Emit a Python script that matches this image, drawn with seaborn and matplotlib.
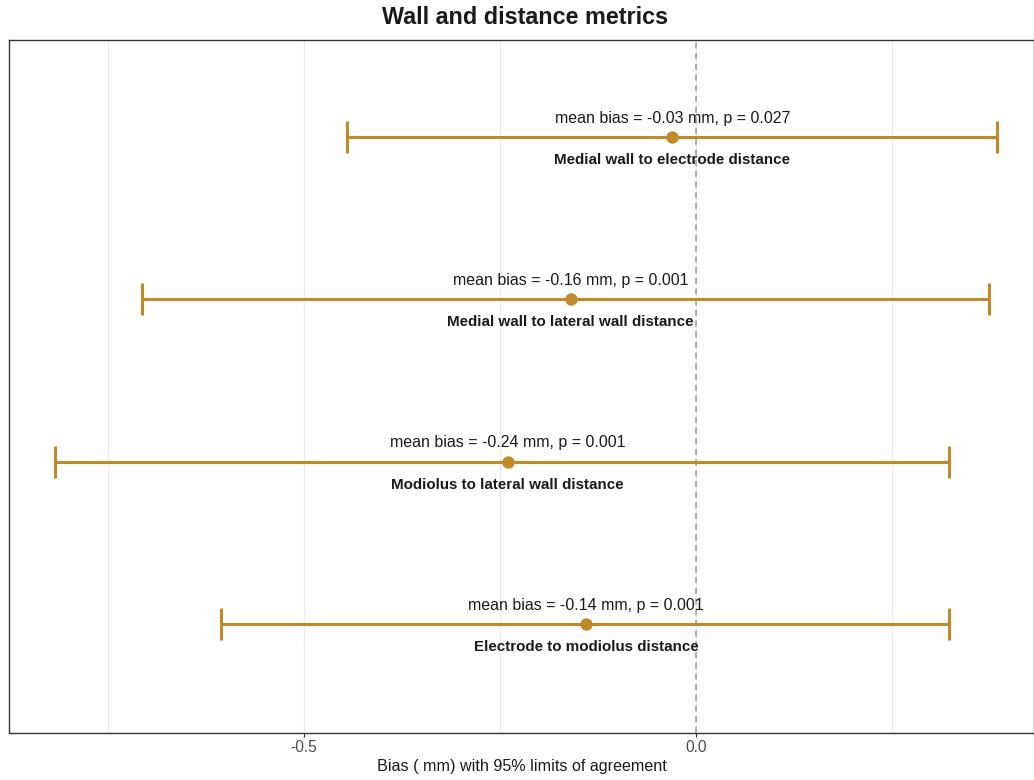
import matplotlib
matplotlib.use("Agg")
import matplotlib.pyplot as plt
import seaborn as sns
import pandas as pd

# Bland-Altman style summary per metric
metrics = [
    "Medial wall to electrode distance",
    "Medial wall to lateral wall distance",
    "Modiolus to lateral wall distance",
    "Electrode to modiolus distance",
]
mean_bias = [-0.03, -0.16, -0.24, -0.14]
lower_loa = [-0.445, -0.706, -0.817, -0.606]
upper_loa = [0.384, 0.373, 0.322, 0.322]
p_values = ["0.027", "0.001", "0.001", "0.001"]

color = "#C08A2A"

sns.set_theme(style="white")
plt.rcParams["font.family"] = ["Liberation Sans", "DejaVu Sans"]

df = pd.DataFrame({
    "metric": metrics,
    "bias": mean_bias,
    "lo": lower_loa,
    "hi": upper_loa,
    "p": p_values,
})
df["ypos"] = list(range(len(metrics), 0, -1))

fig = plt.figure(figsize=(10.34, 7.8), dpi=100)
ax = fig.add_axes([9 / 1034, 47 / 780, 1025 / 1034, 693 / 780])

# limits of agreement with caps
ax.errorbar(
    df["bias"], df["ypos"],
    xerr=[df["bias"] - df["lo"], df["hi"] - df["bias"]],
    fmt="none", ecolor=color, elinewidth=2.2, capsize=11.5, capthick=2.2, zorder=3,
)
sns.scatterplot(data=df, x="bias", y="ypos", color=color, s=80, edgecolor=color,
                linewidth=0, ax=ax, zorder=4, legend=False)

ax.axvline(0, color="#9a9a9a", linestyle=(0, (4, 3)), linewidth=1.1, zorder=2)

for _, r in df.iterrows():
    ax.annotate(f"mean bias = {r['bias']:.2f} mm, p = {r['p']}", (r["bias"], r["ypos"]),
                xytext=(0, 19), textcoords="offset pixels", ha="center", va="center",
                fontsize=11.5, color="#1a1a1a", zorder=5)
    ax.annotate(r["metric"], (r["bias"], r["ypos"]),
                xytext=(0, -23), textcoords="offset pixels", ha="center", va="center",
                fontsize=10.9, fontweight="bold", color="#1a1a1a", zorder=5)

ax.set_xlim(-0.876, 0.431)
ax.set_ylim(0.329, 4.598)
ax.set_yticks([])
ax.set_xticks([-0.5, 0.0])
ax.set_xticklabels(["-0.5", "0.0"])
ax.set_xticks([-0.75, -0.25, 0.25], minor=True)
ax.grid(axis="x", which="both", color="#ebebeb", linewidth=0.8)
ax.set_axisbelow(True)
ax.tick_params(axis="x", which="major", length=3, width=0.8, color="#333333",
               labelsize=11.2, labelcolor="#4d4d4d", pad=2, bottom=True)
ax.tick_params(axis="x", which="minor", length=0)
for s in ax.spines.values():
    s.set_color("#333333")
    s.set_linewidth(1.0)
ax.set_xlabel("Bias ( mm) with 95% limits of agreement", fontsize=11.6,
              color="#1a1a1a", labelpad=3)
ax.set_ylabel("")
fig.text(525 / 1034, 1 - 18 / 780, "Wall and distance metrics", ha="center", va="center",
         fontsize=16.8, fontweight="bold", color="#1a1a1a")

fig.savefig("out.png", dpi=100)
